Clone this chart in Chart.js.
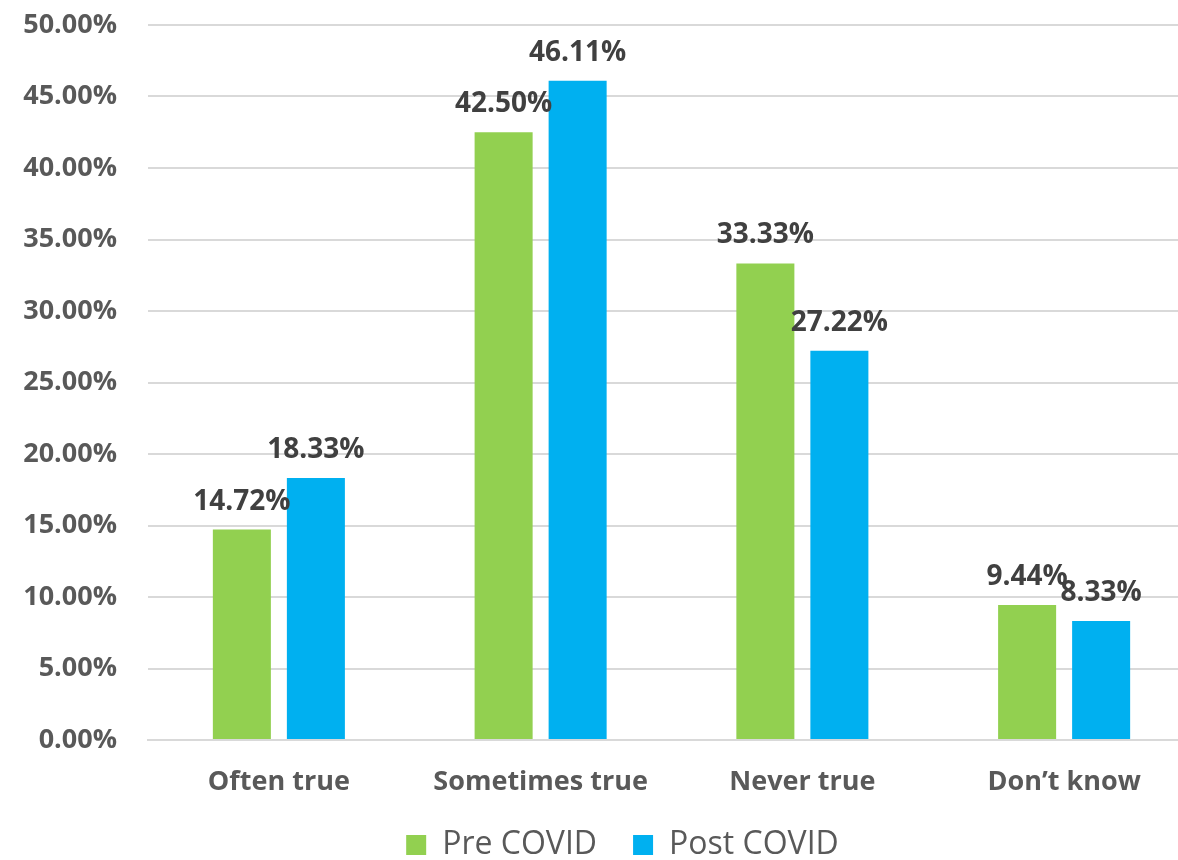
<!DOCTYPE html>
<html>
<head>
<meta charset="utf-8">
<script src="https://cdn.jsdelivr.net/npm/chart.js@4/dist/chart.umd.min.js"></script>
<style>
	html, body { margin: 0; padding: 0; background: #fff; }
	#frame { width: 1178px; height: 860px; overflow: hidden; }
	/* plot area runs a little past the right edge, as in the original crop */
	#wrap { width: 1195px; height: 860px; }
</style>
</head>
<body>
<div id="frame"><div id="wrap"><canvas id="surveyChart"></canvas></div></div>
<script>
const categories = ['Often true', 'Sometimes true', 'Never true', 'Don\u2019t know'];
const preCovid = [14.72, 42.50, 33.33, 9.44];
const postCovid = [18.33, 46.11, 27.22, 8.33];
const seriesNames = ['Pre COVID', 'Post COVID'];

const FONT = '"Open Sans", "Noto Sans", sans-serif';

// draws the percentage over each bar
const barValueLabels = {
	id: 'barValueLabels',
	afterDatasetsDraw(chart) {
		const ctx = chart.ctx;
		ctx.save();
		ctx.font = `bold 28px ${FONT}`;
		ctx.fillStyle = '#404040';
		ctx.textAlign = 'center';
		ctx.textBaseline = 'alphabetic';
		chart.data.datasets.forEach((ds, i) => {
			const meta = chart.getDatasetMeta(i);
			meta.data.forEach((bar, j) => {
				ctx.fillText(ds.data[j].toFixed(2) + '%', bar.x, bar.y - 20);
			});
		});
		ctx.restore();
	}
};

// legend: trim its box and nudge it right like the original
const legendTweak = {
	id: 'legendTweak',
	beforeLayout(chart) {
		const legend = chart.legend;
		if (!legend || legend._trimmed) return;
		const fit = legend.fit;
		legend.fit = function () {
			fit.call(this);
			this.height = 67;
		};
		legend._trimmed = true;
	},
	afterLayout(chart) {
		if (!chart.legend) return;
		chart.legend.left += 25;
		chart.legend.right += 25;
	}
};

new Chart(document.getElementById('surveyChart').getContext('2d'), {
	type: 'bar',
	data: {
		labels: categories,
		datasets: [
			{ label: seriesNames[0], data: preCovid, backgroundColor: '#92D050' },
			{ label: seriesNames[1], data: postCovid, backgroundColor: '#00B0F0' }
		]
	},
	options: {
		responsive: true,
		maintainAspectRatio: false,
		animation: false,
		devicePixelRatio: 1,
		layout: { padding: { left: 0, right: 0, top: 25, bottom: 0 } },
		categoryPercentage: 0.5655,
		barPercentage: 0.784,
		scales: {
			x: {
				grid: { display: false, drawTicks: false },
				border: { display: true, color: '#d9d9d9', width: 2 },
				ticks: {
					padding: 26,
					color: '#595959',
					font: { family: FONT, size: 27, weight: 'bold' }
				},
				afterFit: scale => { scale.height = 53; }
			},
			y: {
				min: 0,
				max: 50,
				grid: { color: '#d9d9d9', lineWidth: 2, tickLength: 27, tickColor: 'rgba(0,0,0,0)' },
				border: { display: false },
				ticks: {
					stepSize: 5,
					padding: 4,
					color: '#595959',
					font: { family: FONT, size: 27, weight: 'bold' },
					callback: v => v.toFixed(2) + '%'
				},
				afterFit: scale => { scale.width = 148; }
			}
		},
		plugins: {
			legend: {
				position: 'bottom',
				labels: {
					boxWidth: 20,
					boxHeight: 20,
					padding: 36,
					color: '#595959',
					font: { family: FONT, size: 32 }
				}
			},
			tooltip: { enabled: false }
		}
	},
	plugins: [barValueLabels, legendTweak]
});
</script>
</body>
</html>
